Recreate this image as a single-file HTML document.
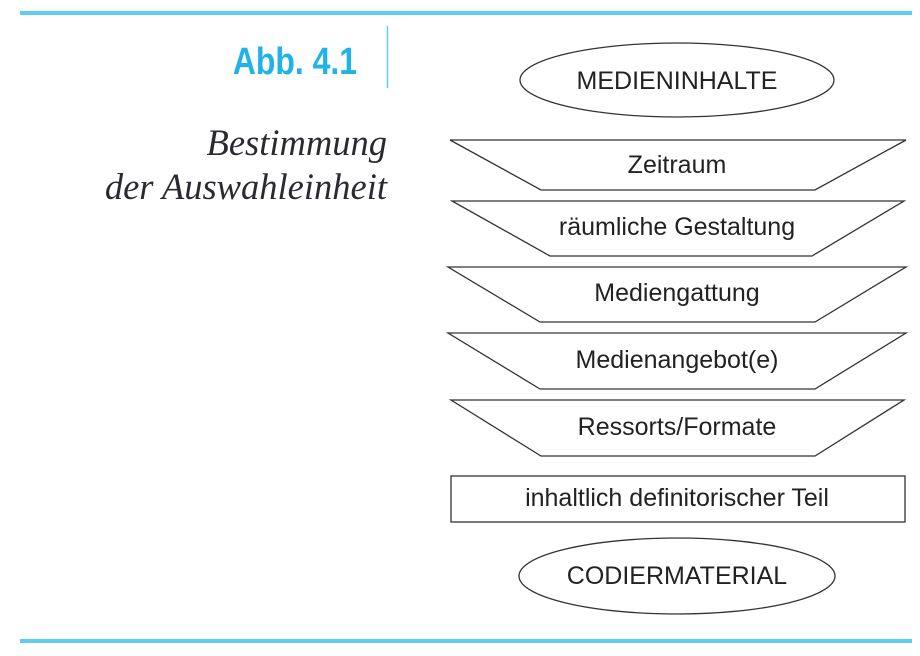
<!DOCTYPE html>
<html><head><meta charset="utf-8"><style>
html,body{margin:0;padding:0;background:#fff;}
svg{display:block}
</style></head><body>
<svg width="920" height="656" viewBox="0 0 920 656" xmlns="http://www.w3.org/2000/svg">
<rect x="20" y="11" width="892" height="4" fill="#5fcdf0"/>
<rect x="20" y="639" width="892" height="4" fill="#5fcdf0"/>
<line x1="387.5" y1="26" x2="387.5" y2="88" stroke="#5fcdf0" stroke-width="1.5"/>
<text x="357" y="74" text-anchor="end" font-family="Liberation Sans Narrow, Liberation Sans, sans-serif" font-weight="bold" font-size="38" fill="#1fb3ea" transform="translate(357 0) scale(0.84 1) translate(-357 0)">Abb. 4.1</text>
<g font-family="Liberation Serif, serif" font-style="italic" font-size="36.5" fill="#2a2a30" text-anchor="end">
<text x="387" y="155">Bestimmung</text>
<text x="387" y="199">der Auswahleinheit</text>
</g>
<g fill="#fff" stroke="#333" stroke-width="1.3">
<ellipse cx="677" cy="80" rx="157" ry="37"/>
<polygon points="450,140 906,140 815,190 541,190"/>
<polygon points="452,201 904,201 812,256 550,256"/>
<polygon points="448,267 906,267 815,322 540,322"/>
<polygon points="448,333 906,333 815,389 540,389"/>
<polygon points="451,400 904,400 815,456 541,456"/>
<rect x="451" y="476" width="454" height="46"/>
<ellipse cx="677" cy="576" rx="158" ry="38"/>
</g>
<g font-family="Liberation Sans, sans-serif" font-size="25" fill="#222" text-anchor="middle">
<text x="677" y="89">MEDIENINHALTE</text>
<text x="677" y="173">Zeitraum</text>
<text x="677" y="235">räumliche Gestaltung</text>
<text x="677" y="301">Mediengattung</text>
<text x="677" y="368">Medienangebot(e)</text>
<text x="677" y="435">Ressorts/Formate</text>
<text x="677" y="506">inhaltlich definitorischer Teil</text>
<text x="677" y="584">CODIERMATERIAL</text>
</g>
</svg>
</body></html>
